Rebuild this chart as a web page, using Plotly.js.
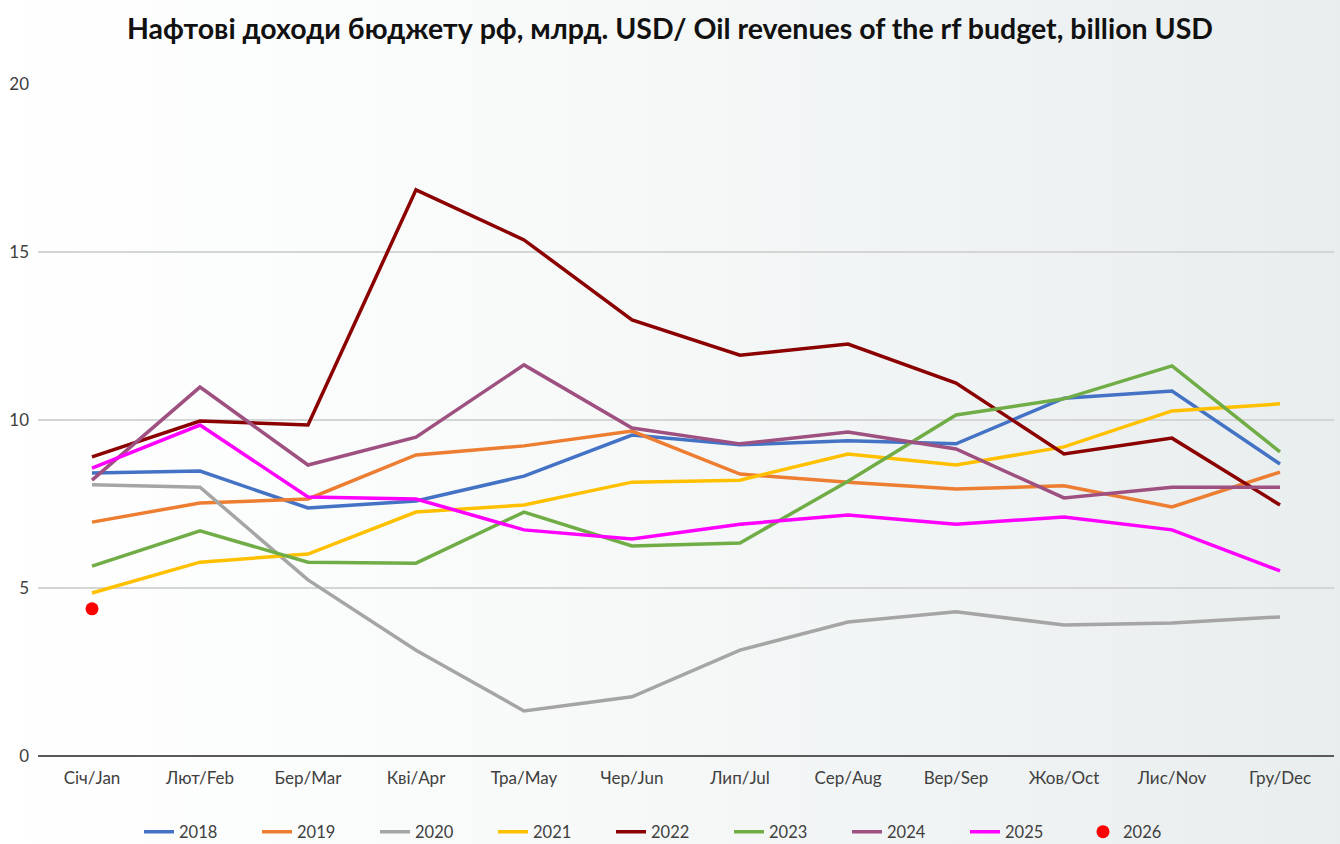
<!DOCTYPE html>
<html><head><meta charset="utf-8">
<script src="https://cdn.plot.ly/plotly-3.0.1.min.js"></script>
<style>
html,body{margin:0;padding:0;overflow:hidden;}
body{background:linear-gradient(to right,#ffffff 0%,#f7f9f9 45%,#e8eded 100%);}
#chart{width:1340px;height:844px;}
</style></head><body>
<div id="chart"></div>
<script>
const months = ["Січ/Jan","Лют/Feb","Бер/Mar","Кві/Apr","Тра/May","Чер/Jun","Лип/Jul","Сер/Aug","Вер/Sep","Жов/Oct","Лис/Nov","Гру/Dec"];
const y2018 = [8.42,8.48,7.38,7.59,8.33,9.55,9.26,9.38,9.29,10.65,10.86,8.69];
const y2019 = [6.96,7.53,7.65,8.96,9.23,9.67,8.39,8.15,7.95,8.04,7.41,8.45];
const y2020 = [8.07,8.00,5.24,3.15,1.34,1.76,3.15,3.99,4.29,3.90,3.96,4.14];
const y2021 = [4.85,5.77,6.01,7.26,7.47,8.15,8.21,8.99,8.66,9.20,10.27,10.48];
const y2022 = [8.90,9.97,9.85,16.85,15.36,12.98,11.93,12.26,11.10,8.99,9.46,7.47];
const y2023 = [5.65,6.70,5.77,5.74,7.26,6.25,6.34,8.18,10.15,10.63,11.61,9.05];
const y2024 = [8.21,10.98,8.66,9.49,11.64,9.76,9.29,9.64,9.14,7.68,8.00,8.00];
const y2025 = [8.57,9.85,7.71,7.65,6.73,6.46,6.90,7.17,6.90,7.11,6.73,5.51];
const y2026 = [4.38];
const years = ["2018","2019","2020","2021","2022","2023","2024","2025","2026"];
const colors = ["#4472c4","#ed7d31","#a5a5a5","#ffc000","#8b0000","#70ad47","#9e5080","#ff00ff","#ff0000"];
const series = [y2018,y2019,y2020,y2021,y2022,y2023,y2024,y2025,y2026];

const traces = series.map((ys,i)=>{
  const t = {x: months.slice(0, ys.length), y: ys, name: years[i], type:'scatter',
    line:{color:colors[i], width:3.5}, hoverinfo:'x+y+name'};
  if (ys.length === 1) { t.mode='markers'; t.marker={color:colors[i], size:13}; }
  else t.mode='lines';
  return t;
});

const layout = {
  width:1340, height:844,
  paper_bgcolor:'rgba(0,0,0,0)', plot_bgcolor:'rgba(0,0,0,0)',
  margin:{l:38, r:6, t:84, b:88, autoexpand:false},
  font:{family:'Lato, "Open Sans", sans-serif', size:16, color:'#404040'},
  title:{text:'Нафтові доходи бюджету рф, млрд. USD/ Oil revenues of the rf budget, billion USD',
    font:{family:'Lato, "Open Sans", sans-serif', size:28.5, color:'#111', weight:'bold'},
    x:0.5, xanchor:'center', y:0.966, yanchor:'middle'},
  xaxis:{type:'category', categoryarray:months, range:[-0.5,11.5], showgrid:false,
    showline:false, zeroline:false, ticks:'', ticklabelstandoff:10, tickfont:{size:17, color:'#404040'}},
  yaxis:{range:[0,20], tickvals:[0,5,10,15,20], showgrid:true, gridcolor:'#d4d6d6', gridwidth:2,
    zeroline:true, zerolinecolor:'#5a5a5a', zerolinewidth:2, showline:false, ticks:'',
    ticklabelstandoff:8, tickfont:{size:17, color:'#404040'}},
  legend:{orientation:'h', xref:'container', x:0.5, xanchor:'center', y:-0.113, yanchor:'middle',
    font:{size:16.5, color:'#404040'}, itemwidth:30, entrywidth:73, entrywidthmode:'pixels',
    bgcolor:'rgba(0,0,0,0)', traceorder:'normal'},
  showlegend:true
};
Plotly.newPlot('chart', traces, layout, {displayModeBar:false, responsive:false});
</script></body></html>
